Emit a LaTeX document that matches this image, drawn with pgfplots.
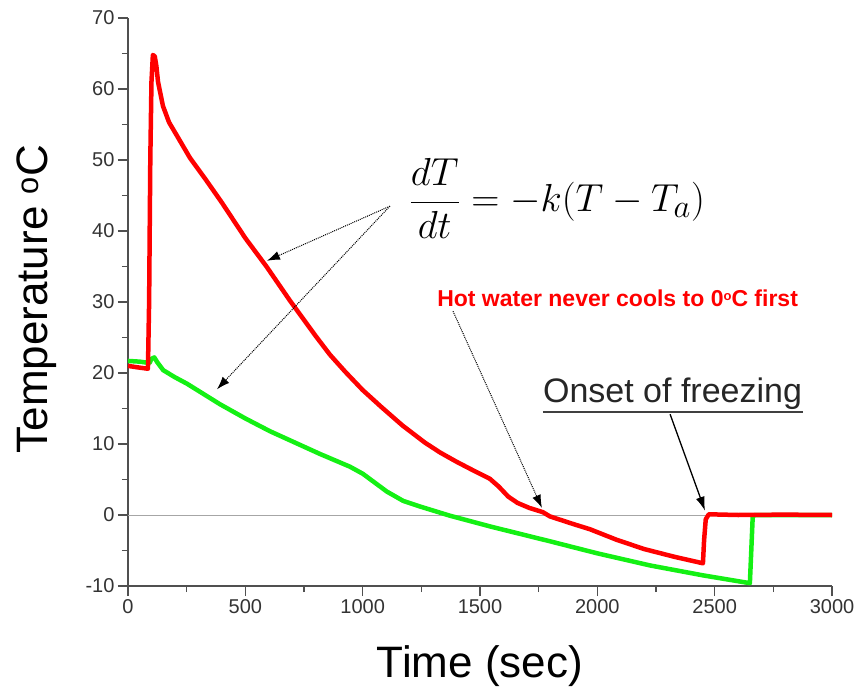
\documentclass[border=0pt]{standalone}
\usepackage[no-math]{fontspec}
\setmainfont{Liberation Sans}
\usepackage{pgfplots}
\usepackage{pgfplotstable}
\pgfplotsset{compat=1.18}
\usetikzlibrary{arrows.meta}
\definecolor{hotred}{RGB}{255,0,0}
\definecolor{coldgreen}{RGB}{20,240,20}
\definecolor{axgray}{RGB}{80,80,80}

\pgfplotstableread{
t T
0 21.0
40 20.8
85 20.6
90 30
95 50
100 61
106 64.8
114 64.6
121 63.2
128 61.0
149 57.6
175 55.3
209 53.4
264 50.3
330 47.3
400 44.0
500 39.0
590 35.0
690 30.2
800 25.2
860 22.6
925 20.2
1000 17.6
1080 15.2
1170 12.6
1265 10.2
1330 8.8
1400 7.5
1470 6.3
1542 5.1
1580 4.0
1620 2.6
1660 1.7
1710 1.0
1768 0.4
1798 -0.2
1900 -1.3
1968 -2.0
2083 -3.5
2200 -4.8
2330 -5.9
2450 -6.8
2455 -3.5
2462 -0.6
2475 0.1
2600 0.0
2800 0.05
3000 0.0
}\hotdata

\pgfplotstableread{
t T
0 21.7
50 21.6
92 21.4
100 22.0
112 22.2
125 21.5
150 20.4
200 19.4
251 18.5
392 15.6
500 13.6
605 11.8
818 8.6
946 6.8
1001 5.8
1050 4.6
1103 3.3
1172 2.0
1244 1.2
1372 -0.1
1542 -1.6
1700 -2.9
1798 -3.7
2000 -5.4
2224 -7.1
2450 -8.5
2650 -9.6
2656 -5.0
2662 -0.3
2670 0.0
3000 0.0
}\colddata

\begin{document}
\begin{tikzpicture}
\begin{axis}[
  scale only axis, width=704pt, height=568pt,
  xmin=0, xmax=3000, ymin=-10, ymax=70,
  axis lines=left,
  axis line style={-, axgray, line width=2pt},
  every outer x axis line/.append style={-},
  every outer y axis line/.append style={-},
  xtick={0,500,...,3000}, ytick={-10,0,...,70},
  minor x tick num=1, minor y tick num=1,
  tick align=outside,
  major tick length=10pt, minor tick length=6pt,
  tick style={axgray, line width=1.5pt},
  tick label style={font=\fontsize{20}{24}\selectfont, text=black!80},
  /pgf/number format/assume math mode=true,
  /pgf/number format/1000 sep={},
  clip=false,
]
\coordinate (O) at (rel axis cs:0,0);
\draw[gray!70, line width=1pt] (axis cs:0,0) -- (axis cs:3000,0);
\addplot[coldgreen, line width=4.5pt, line join=round] table[x=t,y=T] {\colddata};
\addplot[hotred, line width=4.5pt, line join=round] table[x=t,y=T] {\hotdata};

% axis labels
\node[anchor=base, font=\fontsize{44}{50}\selectfont] at (rel axis cs:0.5,0) [yshift=-91pt] {Time (sec)};
\node[anchor=base, rotate=90, font=\fontsize{44}{50}\selectfont] at (axis cs:-345,30.4) {Temperature \textsuperscript{o}C};

% equation
\node[anchor=center, font=\fontsize{24.88}{30}\selectfont] at (axis cs:1828,44.6) {\scalebox{1.57}{$\displaystyle\frac{dT}{dt} = -k(T-T_a)$}};
\draw[densely dotted, line width=1pt, -{Latex[length=13pt,width=9pt]}] (axis cs:1116,43.5) -- (axis cs:592,35.8);
\draw[densely dotted, line width=1pt, -{Latex[length=13pt,width=9pt]}] (axis cs:1116,43.5) -- (axis cs:379,17.7);

% hot water note
\node[anchor=base west, inner sep=0pt, text=hotred, font=\fontsize{23}{27}\selectfont\bfseries] at (axis cs:1317,29.4) {Hot water never cools to 0\raisebox{0.45ex}{\fontsize{13}{13}\selectfont o}C first};
\draw[densely dotted, line width=1pt, -{Latex[length=13pt,width=9pt]}] (axis cs:1385,28.7) -- (axis cs:1764,1.0);

% onset of freezing
\node[anchor=base west, inner sep=0pt, text=black!85, font=\fontsize{34}{39}\selectfont] at (axis cs:1768,15.9) {Onset of freezing};
\draw[black!75, line width=2pt] (axis cs:1768,14.5) -- (axis cs:2876,14.5);
\draw[black, line width=1.3pt, -{Latex[length=14pt,width=9pt]}] (axis cs:2310,14.2) -- (axis cs:2459,0.6);
\end{axis}
\pgfresetboundingbox
\path (O) ++(-128pt,-102pt) rectangle ++(858pt,688pt);
\end{tikzpicture}
\end{document}
